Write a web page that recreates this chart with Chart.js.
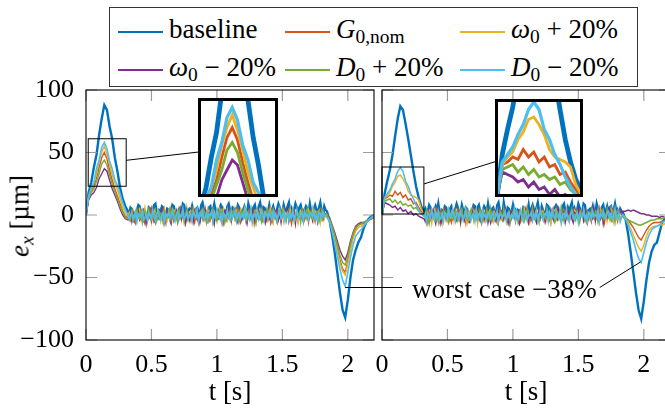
<!DOCTYPE html>
<html>
<head>
<meta charset="utf-8">
<script src="https://cdn.jsdelivr.net/npm/chart.js@4.4.1/dist/chart.umd.min.js"></script>
<style>
  html, body { margin: 0; padding: 0; background: #fff; overflow: hidden; }
  #fig { position: relative; width: 665px; height: 409px; overflow: hidden; font-family: 'Liberation Serif', 'DejaVu Serif', serif; color: #000; }
  #fig canvas { position: absolute; }
  #legend { position: absolute; left: 109px; top: 7px; width: 529px; height: 80px; box-sizing: border-box; border: 1px solid #333; background: #fff; }
  .entry { position: absolute; font-family: 'Liberation Serif', 'DejaVu Serif', serif; font-size: 27px; line-height: 30px; white-space: nowrap; }
  .sw { display: inline-block; width: 45px; height: 0; border-top: 2px solid; vertical-align: middle; margin-right: 6px; }
  sub { font-size: 0.72em; line-height: 0; vertical-align: -0.25em; }
  #ylabel { position: absolute; left: 20px; top: 216px; font-size: 27px; white-space: nowrap; transform: translate(-50%, -50%) rotate(-90deg); }
  .inset { outline: 3px solid #000; outline-offset: -1.5px; background: #fff; }
</style>
</head>
<body>
<div id="fig">
  <canvas id="left" width="380" height="409" style="left:0;top:0"></canvas>
  <canvas id="right" width="306" height="409" style="left:372px;top:0"></canvas>
  <canvas id="leftInset" class="inset"></canvas>
  <canvas id="rightInset" class="inset"></canvas>
  <div id="legend"></div>
  <div id="ylabel"><i>e</i><sub><i>x</i></sub> [µm]</div>
</div>
<script>
// время, с: пик (шаг 0.02), участок с шумом (шаг 0.01), провал (шаг 0.02)
const t = [
  0, 0.02, 0.04, 0.06, 0.08, 0.1, 0.12, 0.14, 0.16, 0.18, 0.2, 0.22, 0.24, 0.26, 0.28, 0.3, 0.32,
  0.33, 0.34, 0.35, 0.36, 0.37, 0.38, 0.39, 0.4, 0.41, 0.42,
  0.43, 0.44, 0.45, 0.46, 0.47, 0.48, 0.49, 0.5, 0.51, 0.52,
  0.53, 0.54, 0.55, 0.56, 0.57, 0.58, 0.59, 0.6, 0.61, 0.62,
  0.63, 0.64, 0.65, 0.66, 0.67, 0.68, 0.69, 0.7, 0.71, 0.72,
  0.73, 0.74, 0.75, 0.76, 0.77, 0.78, 0.79, 0.8, 0.81, 0.82,
  0.83, 0.84, 0.85, 0.86, 0.87, 0.88, 0.89, 0.9, 0.91, 0.92,
  0.93, 0.94, 0.95, 0.96, 0.97, 0.98, 0.99, 1, 1.01, 1.02,
  1.03, 1.04, 1.05, 1.06, 1.07, 1.08, 1.09, 1.1, 1.11, 1.12,
  1.13, 1.14, 1.15, 1.16, 1.17, 1.18, 1.19, 1.2, 1.21, 1.22,
  1.23, 1.24, 1.25, 1.26, 1.27, 1.28, 1.29, 1.3, 1.31, 1.32,
  1.33, 1.34, 1.35, 1.36, 1.37, 1.38, 1.39, 1.4, 1.41, 1.42,
  1.43, 1.44, 1.45, 1.46, 1.47, 1.48, 1.49, 1.5, 1.51, 1.52,
  1.53, 1.54, 1.55, 1.56, 1.57, 1.58, 1.59, 1.6, 1.61, 1.62,
  1.63, 1.64, 1.65, 1.66, 1.67, 1.68, 1.69, 1.7, 1.71, 1.72,
  1.73, 1.74, 1.75, 1.76, 1.77, 1.78, 1.79, 1.8, 1.81, 1.82,
  1.83, 1.84,
  1.86, 1.88, 1.9, 1.92, 1.94, 1.96, 1.98, 2, 2.02, 2.04, 2.06, 2.08, 2.1, 2.12, 2.14, 2.16, 2.18, 2.2
];

const xTicks = [0, 0.5, 1, 1.5, 2];
const yTicks = [-100, -50, 0, 50, 100];

// левая панель, e_x в мкм
const leftBaseline = [
  0, 18, 26, 38, 48, 64, 77, 88, 84, 71, 61, 46, 35, 22, 13, 7, 3,
  1, 6, 5, -1, -2, 3, 4, 8, 7, 0,
  0, 4, 3, -3, -2, 6, 5, 1, 2, 8,
  9, 2, -1, 4, 3, 7, 6, -2, 1, 5,
  4, 0, 2, 8, 7, 3, 1, -1, 5, 6,
  2, 9, 8, 0, -2, 4, 5, 3, 7, 1,
  -1, 5, 6, 2, 0, 8, 10, 4, 3, -1,
  2, 6, 7, 1, 4, 9, 3, -2, 0, 5,
  8, 6, 2, 3, -1, 7, 9, 4, 1, 6,
  5, 0, 3, 8, 6, 2, -1, 4, 7, 3,
  1, 9, 5, 4, 0, 6, 8, 2, 3, 7,
  10, 4, 1, 6, 5, -1, 3, 8, 2, 4,
  7, 3, 0, 5, 9, 6, 1, 2, 8, 4,
  3, 7, 10, 2, 5, 0, 4, 9, 6, 1,
  6, 8, 3, -1, 4, 7, 5, 2, 9, 3,
  0, 5, 8, 4, 2, 6, 10, 3, 1, 7,
  4, 3,
  -4, -16, -30, -46, -62, -76, -82, -68, -50, -36, -28, -22, -18, -11, -6, -3, -1, 0
];
const leftG0nom = [
  0, 14, 19, 23, 29, 38, 46, 50, 45, 36, 28, 21, 15, 9, 3, -1, -2,
  -4, 2, 1, -5, -6, 0, 3, -2, -3, 4,
  1, -4, -7, 0, 2, -3, -1, 5, -2, -6,
  -5, 1, 3, -2, -4, 0, 4, -3, -7, 2,
  0, -3, 5, 1, -5, -2, 2, -6, -1, 3,
  -2, 4, 0, -7, -3, 2, 1, -4, 5, -1,
  -6, 0, 3, -2, -5, 1, 4, -3, -1, 2,
  3, -5, -2, 1, -6, 0, 2, -4, -3, 5,
  -1, 2, -7, -3, 1, 4, -2, 0, -5, 3,
  2, -4, -1, 5, -3, -6, 1, 3, -2, 0,
  -5, 1, 4, -1, -3, 2, -7, 0, 3, -2,
  4, -2, -5, 0, 2, -4, 1, 5, -6, -1,
  0, 3, -3, -6, 2, 1, -2, 4, -4, -1,
  -3, 5, 0, -2, -7, 1, 3, -1, 2, -5,
  1, -3, 2, 4, -4, -1, 0, -6, 3, 2,
  -2, 0, -5, 3, 1, -3, 4, -1, -4, 2,
  0, 1,
  -3, -10, -18, -27, -36, -43, -46, -37, -26, -17, -11, -8, -7, -7, -6, -4, -3, -2
];
const leftOmegaPlus = [
  0, 15, 20, 26, 33, 43, 50, 55, 49, 41, 32, 26, 20, 13, 6, 1, -1,
  2, -3, -1, 4, 0, -5, -2, 3, 5, -4,
  -1, 1, 6, -2, -4, 2, 0, -6, 3, -1,
  1, -3, 4, 2, -5, 0, -2, 5, -1, -4,
  3, 0, -6, -1, 2, 4, -3, 1, -2, 5,
  -4, 2, 0, -3, 6, -1, -5, 3, 1, -2,
  0, 4, -2, -7, 1, 3, -1, 2, -4, 0,
  5, -2, -4, 1, 3, -6, 0, 2, -1, 4,
  -3, 1, 5, -2, 0, -4, 3, -1, -6, 2,
  1, -1, 3, -5, -2, 4, 0, -3, 2, 5,
  -2, 0, -4, 3, 1, -6, 2, 4, -1, -3,
  3, -5, 0, 2, -2, 4, -4, 1, 5, -1,
  -6, 2, 1, -3, 4, 0, -2, 3, -5, 1,
  2, -1, -3, 5, 0, -4, 1, -2, 4, -6,
  0, 3, -1, -5, 2, 1, -3, 4, 0, -2,
  5, -4, 2, 0, -1, 3, -6, 1, 2, -3,
  1, 0,
  -4, -11, -20, -29, -38, -45, -48, -39, -28, -19, -13, -10, -9, -8, -6, -4, -2, -1
];
const leftOmegaMinus = [
  0, 12, 16, 18, 22, 29, 33, 37, 35, 28, 21, 16, 11, 5, 0, -3, -4,
  -3, 1, -5, 2, -1, -6, 0, 3, -4, -2,
  2, -4, 0, -7, 1, 3, -2, -5, 4, -1,
  -6, 0, 2, -3, -1, 4, -5, 1, -2, 3,
  0, -4, -7, 2, 1, -2, 3, -5, -1, 4,
  -3, 2, 0, -6, 4, -1, -4, 1, 2, -5,
  3, -2, -4, 1, -6, 0, 2, -3, 5, -1,
  -5, 1, 3, -2, 0, -7, 1, 4, -3, -1,
  2, -6, -1, 3, -4, 0, 5, -2, -5, 1,
  -1, 4, -3, -6, 2, 1, -4, 0, 3, -2,
  -7, 0, 2, -3, 4, -1, -5, 1, -2, 3,
  0, -4, 5, -1, -6, 2, 1, -3, 0, -5,
  3, -2, -1, 4, -4, 0, -6, 2, 1, -3,
  -2, 5, -5, 0, 2, -3, 1, -7, 3, -1,
  1, -3, 0, -5, 4, 2, -2, -4, 0, 3,
  -4, 2, -1, 1, -6, 0, 3, -2, -3, 2,
  0, -1,
  -2, -8, -14, -21, -28, -33, -36, -30, -21, -14, -9, -7, -6, -6, -5, -4, -3, -2
];
const leftDPlus = [
  0, 13, 18, 21, 27, 33, 41, 44, 40, 32, 25, 19, 13, 7, 2, -2, -3,
  0, -4, 3, -2, 1, -5, 4, -1, -3, 2,
  -6, 1, 3, -3, 0, 5, -2, -4, 2, -1,
  4, -5, -1, 2, -3, 1, -6, 3, 0, -2,
  1, 5, -4, -1, 3, -2, 0, -5, 4, -3,
  -1, 2, -6, 0, 4, -3, 1, 2, -4, 5,
  -2, 0, 3, -5, -1, 2, -3, 4, 0, -6,
  2, -1, -4, 3, 5, -2, 0, -5, 1, 3,
  -3, 4, 1, -6, 0, 2, -2, 3, -4, -1,
  5, -3, 0, 2, -5, 1, 4, -1, -2, 0,
  -4, 2, -1, 5, -3, 0, 3, -6, 1, 2,
  0, -5, 3, -2, 1, 4, -4, -1, 2, -3,
  4, 0, -2, -6, 3, 1, -3, 2, 5, -1,
  -5, 2, 1, -3, 0, 4, -2, -4, 3, 0,
  2, -6, 4, 1, -1, -3, 5, 0, -2, 3,
  -1, 1, -4, 2, 3, -5, 0, 4, -3, 1,
  -1, 0,
  -3, -9, -16, -24, -32, -38, -40, -33, -23, -15, -10, -8, -7, -6, -5, -4, -3, -2
];
const leftDMinus = [
  0, 15, 22, 26, 37, 44, 54, 58, 53, 43, 37, 28, 24, 17, 10, 4, 0,
  -3, 0, 2, -4, -1, 3, -5, 1, 0, -2,
  3, -4, -2, 1, -5, 2, 0, -3, 4, -1,
  -5, 1, 3, -2, -4, 0, 2, -6, 1, -1,
  2, -3, 0, 4, -2, -5, 1, 3, -4, 0,
  -1, 5, -3, -1, 2, -4, 0, 1, -5, 3,
  0, -2, 4, -5, 1, -1, 3, -3, -2, 2,
  -4, 1, 0, 3, -5, 2, -2, 4, -1, -3,
  1, -6, 2, 0, -3, 4, -1, -4, 3, -2,
  0, 3, -5, 1, 2, -3, 0, -2, 5, -4,
  2, -1, -3, 4, -6, 0, 1, -2, 3, -4,
  -2, 4, 0, -5, 2, 1, -3, 3, -1, -4,
  3, -2, 1, -4, 0, 5, -3, -1, 2, -5,
  0, 2, -4, 1, -2, 3, -5, 0, 4, -1,
  -3, 1, 2, -5, 3, -1, 0, -4, 2, 1,
  -2, 4, -3, 0, -5, 2, 1, -3, 3, -1,
  0, -2,
  -5, -13, -23, -33, -43, -52, -57, -46, -34, -24, -17, -14, -12, -9, -6, -4, -2, -1
];

// правая панель, e_x в мкм
const rightBaseline = [
  0, 17, 27, 36, 48, 63, 77, 87, 84, 73, 61, 48, 35, 23, 14, 7, 3,
  5, 0, 3, 8, 6, 2, -1, 4, 7, 3,
  9, 2, -1, 4, 3, 7, 6, -2, 1, 5,
  7, 3, 0, 5, 9, 6, 1, 2, 8, 4,
  1, 6, 5, -1, -2, 3, 4, 8, 7, 0,
  6, 8, 3, -1, 4, 7, 5, 2, 9, 3,
  -1, 5, 6, 2, 0, 8, 10, 4, 3, -1,
  10, 4, 1, 6, 5, -1, 3, 8, 2, 4,
  0, 4, 3, -3, -2, 6, 5, 1, 2, 8,
  0, 5, 8, 4, 2, 6, 10, 3, 1, 7,
  4, 0, 2, 8, 7, 3, 1, -1, 5, 6,
  8, 6, 2, 3, -1, 7, 9, 4, 1, 6,
  3, 7, 10, 2, 5, 0, 4, 9, 6, 1,
  2, 9, 8, 0, -2, 4, 5, 3, 7, 1,
  1, 9, 5, 4, 0, 6, 8, 2, 3, 7,
  2, 6, 7, 1, 4, 9, 3, -2, 0, 5,
  3, 2,
  -3, -15, -30, -46, -62, -76, -83, -69, -52, -38, -29, -24, -22, -14, -6, -3, -1, 0
];
const rightG0nom = [
  0, 13, 14, 16, 15, 19, 16, 18, 14, 16, 12, 13, 9, 10, 6, 3, 0,
  -1, 2, -6, 0, 4, -3, 1, 2, -4, 5,
  0, -5, 3, -2, 1, 4, -4, -1, 2, -3,
  -6, 1, 3, -3, 0, 5, -2, -4, 2, -1,
  2, -6, 4, 1, -1, -3, 5, 0, -2, 3,
  -3, 4, 1, -6, 0, 2, -2, 3, -4, -1,
  0, -4, 3, -2, 1, -5, 4, -1, -3, 2,
  4, 0, -2, -6, 3, 1, -3, 2, 5, -1,
  -2, 0, 3, -5, -1, 2, -3, 4, 0, -6,
  -1, 1, -4, 2, 3, -5, 0, 4, -3, 1,
  4, -5, -1, 2, -3, 1, -6, 3, 0, -2,
  5, -3, 0, 2, -5, 1, 4, -1, -2, 0,
  -5, 2, 1, -3, 0, 4, -2, -4, 3, 0,
  1, 5, -4, -1, 3, -2, 0, -5, 4, -3,
  -4, 2, -1, 5, -3, 0, 3, -6, 1, 2,
  2, -1, -4, 3, 5, -2, 0, -5, 1, 3,
  0, -1,
  -2, -4, -7, -10, -14, -18, -20, -16, -12, -9, -7, -6, -6, -6, -5, -5, -4, -4
];
const rightOmegaPlus = [
  0, 13, 16, 18, 23, 26, 31, 32, 29, 25, 19, 16, 15, 14, 12, 5, 1,
  -5, 1, 3, -2, 0, -7, 1, 4, -3, -1,
  2, -4, 0, -7, 1, 3, -2, -5, 4, -1,
  -2, 5, -5, 0, 2, -3, 1, -7, 3, -1,
  0, -4, -7, 2, 1, -2, 3, -5, -1, 4,
  -7, 0, 2, -3, 4, -1, -5, 1, -2, 3,
  -3, 1, -5, 2, -1, -6, 0, 3, -4, -2,
  -4, 2, -1, 1, -6, 0, 3, -2, -3, 2,
  2, -6, -1, 3, -4, 0, 5, -2, -5, 1,
  -6, 0, 2, -3, -1, 4, -5, 1, -2, 3,
  3, -2, -1, 4, -4, 0, -6, 2, 1, -3,
  3, -2, -4, 1, -6, 0, 2, -3, 5, -1,
  1, -3, 0, -5, 4, 2, -2, -4, 0, 3,
  -1, 4, -3, -6, 2, 1, -4, 0, 3, -2,
  -3, 2, 0, -6, 4, -1, -4, 1, 2, -5,
  0, -4, 5, -1, -6, 2, 1, -3, 0, -5,
  -1, 0,
  -2, -6, -11, -16, -21, -26, -29, -24, -17, -12, -10, -9, -9, -8, -8, -7, -6, -5
];
const rightOmegaMinus = [
  0, 10, 9, 8, 6, 7, 4, 6, 3, 4, 1, 3, 0, 1, -1, -2, -3,
  -5, 1, 3, -2, -4, 0, 4, -3, -7, 2,
  -1, 2, -7, -3, 1, 4, -2, 0, -5, 3,
  1, -3, 2, 4, -4, -1, 0, -6, 3, 2,
  -4, 2, 1, -5, -6, 0, 3, -2, -3, 4,
  4, -2, -5, 0, 2, -4, 1, 5, -6, -1,
  -6, 0, 3, -2, -5, 1, 4, -3, -1, 2,
  -3, 5, 0, -2, -7, 1, 3, -1, 2, -5,
  1, -4, -7, 0, 2, -3, -1, 5, -2, -6,
  2, -4, -1, 5, -3, -6, 1, 3, -2, 0,
  -2, 0, -5, 3, 1, -3, 4, -1, -4, 2,
  0, -3, 5, 1, -5, -2, 2, -6, -1, 3,
  0, 3, -3, -6, 2, 1, -2, 4, -4, -1,
  3, -5, -2, 1, -6, 0, 2, -4, -3, 5,
  -5, 1, 4, -1, -3, 2, -7, 0, 3, -2,
  1, 4, 2, -1, 0, 3, 2, 5, 1, 3,
  2, 3,
  3, 4, 3, 4, 3, 2, 1, 1, 0, 0, -1, -1, -1, -2, -1, -2, -2, -2
];
const rightDPlus = [
  0, 11, 12, 13, 10, 12, 9, 11, 8, 9, 7, 8, 5, 6, 3, 1, -1,
  0, 4, -2, -7, 1, 3, -1, 2, -4, 0,
  -6, 2, 1, -3, 4, 0, -2, 3, -5, 1,
  2, -3, -1, 4, 0, -5, -2, 3, 5, -4,
  1, -1, 3, -5, -2, 4, 0, -3, 2, 5,
  1, -3, 4, 2, -5, 0, -2, 5, -1, -4,
  5, -4, 2, 0, -1, 3, -6, 1, 2, -3,
  5, -2, -4, 1, 3, -6, 0, 2, -1, 4,
  3, -5, 0, 2, -2, 4, -4, 1, 5, -1,
  -1, 1, 6, -2, -4, 2, 0, -6, 3, -1,
  2, -1, -3, 5, 0, -4, 1, -2, 4, -6,
  -4, 2, 0, -3, 6, -1, -5, 3, 1, -2,
  -3, 1, 5, -2, 0, -4, 3, -1, -6, 2,
  0, 3, -1, -5, 2, 1, -3, 4, 0, -2,
  3, 0, -6, -1, 2, 4, -3, 1, -2, 5,
  -2, 0, -4, 3, 1, -6, 2, 4, -1, -3,
  -1, -2,
  -3, -4, -5, -6, -7, -8, -8, -7, -6, -5, -4, -4, -3, -3, -3, -2, -2, -2
];
const rightDMinus = [
  0, 14, 17, 20, 25, 29, 35, 38, 35, 27, 23, 17, 13, 8, 4, 1, -1,
  1, -6, 2, 0, -3, 4, -1, -4, 3, -2,
  3, -4, -2, 1, -5, 2, 0, -3, 4, -1,
  -2, 4, 0, -5, 2, 1, -3, 3, -1, -4,
  -1, 5, -3, -1, 2, -4, 0, 1, -5, 3,
  -3, 1, 2, -5, 3, -1, 0, -4, 2, 1,
  -3, 0, 2, -4, -1, 3, -5, 1, 0, -2,
  0, 3, -5, 1, 2, -3, 0, -2, 5, -4,
  2, -3, 0, 4, -2, -5, 1, 3, -4, 0,
  0, 2, -4, 1, -2, 3, -5, 0, 4, -1,
  -4, 1, 0, 3, -5, 2, -2, 4, -1, -3,
  2, -1, -3, 4, -6, 0, 1, -2, 3, -4,
  -5, 1, 3, -2, -4, 0, 2, -6, 1, -1,
  -2, 4, -3, 0, -5, 2, 1, -3, 3, -1,
  0, -2, 4, -5, 1, -1, 3, -3, -2, 2,
  3, -2, 1, -4, 0, 5, -3, -1, 2, -5,
  -1, 0,
  -3, -8, -14, -20, -28, -35, -38, -30, -22, -16, -12, -10, -9, -8, -6, -5, -4, -3
];

// подписи легенды и цвета серий (порядок pgfplots)
const legendLabels = [
  'baseline',
  '<i>G</i><sub>0,nom</sub>',
  '<i>ω</i><sub>0</sub> + 20%',
  '<i>ω</i><sub>0</sub> − 20%',
  '<i>D</i><sub>0</sub> + 20%',
  '<i>D</i><sub>0</sub> − 20%'
];
const seriesColors = ['#0072BD', '#D95319', '#EDB120', '#7E2F8E', '#77AC30', '#4DBEEE'];
const seriesWidths = [2.4, 1.4, 1.4, 1.4, 1.4, 1.6];

const leftSeries = [leftBaseline, leftG0nom, leftOmegaPlus, leftOmegaMinus, leftDPlus, leftDMinus];
const rightSeries = [rightBaseline, rightG0nom, rightOmegaPlus, rightOmegaMinus, rightDPlus, rightDMinus];

// окна увеличения (в координатах данных) и положение вставок на странице
const leftZoom = { x0: 0.017, x1: 0.307, y0: 23, y1: 61 };
const rightZoom = { x0: 0, x1: 0.32, y0: 0.8, y1: 38.4 };
const leftInsetBox = { left: 200, top: 100, w: 76, h: 95 };
const rightInsetBox = { left: 497, top: 101, w: 84, h: 94 };

// аннотация «worst case»
const noteLevel = -58;
const noteLeftAt = [1.98, -58];
const noteRightAt = [1.975, -37.6];
const noteText = 'worst case −38%';

const TICK = 11;
const FONT = "'Liberation Serif', 'DejaVu Serif', serif";
Chart.defaults.font.family = FONT;
Chart.defaults.color = '#000';

/**
 * Наборы данных панели; первый элемент рисуется поверх остальных
 */
const makeSets = (series, k) => series.map((vals, i) => ({
  label: legendLabels[i],
  data: t.map((x, j) => ({ x, y: vals[j] })),
  borderColor: seriesColors[i],
  borderWidth: seriesWidths[i] * k,
  pointRadius: 0,
  tension: 0,
  fill: false
})).reverse();

const fmt = v => (v < 0 ? '−' + Math.abs(v) : String(v));

// рамка, внутренние засечки, окно увеличения, выноска
const panelDeco = {
  id: 'panelDeco',
  afterDatasetsDraw(chart, args, o) {
    const { ctx, chartArea: a } = chart;
    const x = chart.scales.x, y = chart.scales.y;
    ctx.save();

    ctx.strokeStyle = '#9c9c9c';
    ctx.lineWidth = 1.2;
    ctx.beginPath();
    xTicks.forEach(v => {
      const px = x.getPixelForValue(v);
      ctx.moveTo(px, a.bottom); ctx.lineTo(px, a.bottom - TICK);
      ctx.moveTo(px, a.top); ctx.lineTo(px, a.top + TICK);
    });
    yTicks.forEach(v => {
      const py = y.getPixelForValue(v);
      ctx.moveTo(a.left, py); ctx.lineTo(a.left + TICK, py);
      ctx.moveTo(a.right, py); ctx.lineTo(a.right - TICK, py);
    });
    ctx.stroke();

    ctx.strokeStyle = '#000';
    ctx.lineWidth = 1.1;
    ctx.strokeRect(a.left, a.top, a.right - a.left, a.bottom - a.top);

    // окно увеличения и соединительная линия
    const z = o.zoom, b = o.inset;
    const sx0 = x.getPixelForValue(z.x0), sx1 = x.getPixelForValue(z.x1);
    const sy0 = y.getPixelForValue(z.y1), sy1 = y.getPixelForValue(z.y0);
    ctx.lineWidth = 1;
    ctx.strokeRect(sx0, sy0, sx1 - sx0, sy1 - sy0);
    const c1x = (sx0 + sx1) / 2, c1y = (sy0 + sy1) / 2;
    const bx = b.left - o.offset, c2x = bx + b.w / 2, c2y = b.top + b.h / 2;
    const k = (c2y - c1y) / (c2x - c1x);
    ctx.beginPath();
    ctx.moveTo(sx1, c1y + (sx1 - c1x) * k);
    ctx.lineTo(bx, c1y + (bx - c1x) * k);
    ctx.stroke();

    // выноска
    const n = o.note;
    if (n) {
      const ly = y.getPixelForValue(noteLevel);
      ctx.beginPath();
      if (n.from) {
        ctx.moveTo(x.getPixelForValue(n.from[0]), ly);
        ctx.lineTo(n.lineEnd - o.offset, ly);
      }
      if (n.text) {
        ctx.moveTo(0, ly);
        ctx.lineTo(n.lineEnd - o.offset, ly);
        ctx.font = '27px ' + FONT;
        ctx.fillStyle = '#000';
        const tx = n.textX - o.offset;
        ctx.fillText(n.text, tx, ly + 10);
        const ex = tx + ctx.measureText(n.text).width + 3;
        ctx.moveTo(ex, ly);
        ctx.lineTo(x.getPixelForValue(n.to[0]), y.getPixelForValue(n.to[1]));
      }
      ctx.stroke();
    }
    ctx.restore();
  }
};

const mainChart = (id, series, cfg) => new Chart(document.getElementById(id), {
  type: 'line',
  data: { datasets: makeSets(series, 1) },
  plugins: [panelDeco],
  options: {
    responsive: false,
    animation: false,
    events: [],
    layout: { padding: cfg.padding },
    plugins: {
      legend: { display: false },
      tooltip: { enabled: false },
      panelDeco: cfg.deco
    },
    scales: {
      x: {
        type: 'linear', min: 0, max: 2.2,
        grid: { display: false }, border: { display: false },
        afterBuildTicks: s => { s.ticks = xTicks.map(v => ({ value: v })); },
        afterFit: s => { s.height = 69; s.paddingLeft = 0; s.paddingRight = 0; },
        ticks: { font: { size: 26 }, padding: 2, maxRotation: 0, autoSkip: false, callback: fmt },
        title: { display: true, text: 't [s]', font: { size: 27 }, padding: { top: 0, bottom: 0 } }
      },
      y: {
        type: 'linear', min: -100, max: 100,
        display: cfg.yLabels,
        grid: { display: false, drawTicks: false }, border: { display: false },
        afterBuildTicks: s => { s.ticks = yTicks.map(v => ({ value: v })); },
        afterFit: s => { s.width = cfg.yLabels ? 86 : 0; },
        ticks: { font: { size: 26 }, padding: 12, callback: fmt }
      }
    }
  }
});

const insetChart = (id, series, win, box) => {
  const el = document.getElementById(id);
  el.width = box.w; el.height = box.h;
  el.style.left = box.left + 'px';
  el.style.top = box.top + 'px';
  return new Chart(el, {
    type: 'line',
    data: { datasets: makeSets(series, 2) },
    options: {
      responsive: false,
      animation: false,
      events: [],
      layout: { padding: 0 },
      plugins: { legend: { display: false }, tooltip: { enabled: false } },
      scales: {
        x: { type: 'linear', display: false, min: win.x0, max: win.x1 },
        y: { type: 'linear', display: false, min: win.y0, max: win.y1 }
      }
    }
  });
};

mainChart('left', leftSeries, {
  padding: { top: 90, right: 6, bottom: 0, left: 0 },
  yLabels: true,
  deco: { zoom: leftZoom, inset: leftInsetBox, offset: 0, note: { from: noteLeftAt, lineEnd: 402 } }
});
mainChart('right', rightSeries, {
  padding: { top: 90, right: 8, bottom: 0, left: 10 },
  yLabels: false,
  deco: { zoom: rightZoom, inset: rightInsetBox, offset: 372, note: { text: noteText, textX: 412, lineEnd: 402, to: noteRightAt } }
});
insetChart('leftInset', leftSeries, leftZoom, leftInsetBox);
insetChart('rightInset', rightSeries, rightZoom, rightInsetBox);

// легенда
const legend = document.getElementById('legend');
const colLeft = [8, 175, 350];
const rowTop = [6, 44];
legendLabels.forEach((html, i) => {
  const e = document.createElement('div');
  e.className = 'entry';
  e.style.left = colLeft[i % 3] + 'px';
  e.style.top = rowTop[Math.floor(i / 3)] + 'px';
  e.innerHTML = '<span class="sw" style="border-color:' + seriesColors[i] + '"></span>' + html;
  legend.appendChild(e);
});
</script>
</body>
</html>
